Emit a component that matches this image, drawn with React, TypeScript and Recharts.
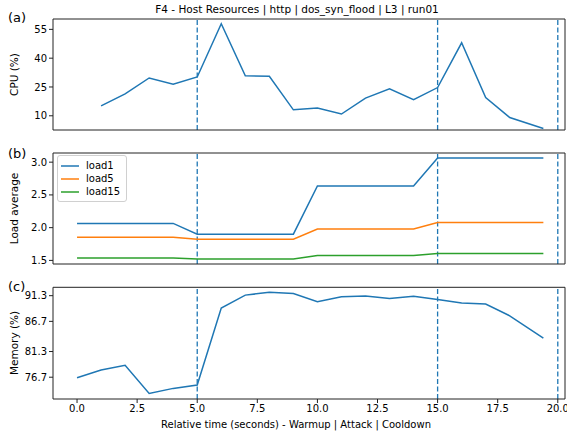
import React from 'react';
import { LineChart, Line, XAxis, YAxis, ReferenceLine, Legend } from 'recharts';

// sample times (s), last sample is a bit before 20
const time = [0, 1, 2, 3, 4, 5, 6, 7, 8, 9, 10, 11, 12, 13, 14, 15, 16, 17, 18, 19.4];
const cpu = [null, 15.2, 21.4, 29.7, 26.4, 30.2, 57.9, 30.8, 30.6, 13.1, 14.1, 10.9, 19.2, 24.0, 18.4, 24.7, 48.0, 19.5, 9.1, 3.4];
const load1 = [2.065, 2.065, 2.065, 2.065, 2.065, 1.9, 1.9, 1.9, 1.9, 1.9, 2.636, 2.636, 2.636, 2.636, 2.636, 3.065, 3.065, 3.065, 3.065, 3.065];
const load5 = [1.853, 1.853, 1.853, 1.853, 1.853, 1.823, 1.823, 1.823, 1.823, 1.823, 1.979, 1.979, 1.979, 1.979, 1.979, 2.08, 2.08, 2.08, 2.08, 2.08];
const load15 = [1.535, 1.535, 1.535, 1.535, 1.535, 1.52, 1.52, 1.52, 1.52, 1.52, 1.576, 1.576, 1.576, 1.576, 1.576, 1.606, 1.606, 1.606, 1.606, 1.606];
const memory = [76.6, 78.0, 78.85, 73.8, 74.7, 75.3, 89.1, 91.4, 91.9, 91.7, 90.2, 91.1, 91.25, 90.8, 91.2, 90.6, 90.0, 89.8, 87.7, 83.7];

// phase boundaries: warmup | attack | cooldown
const phaseMarks = [5, 15, 20];
const xTicks = [0, 2.5, 5, 7.5, 10, 12.5, 15, 17.5, 20];
const cpuTicks = [10, 25, 40, 55];
const loadTicks = [1.5, 2.0, 2.5, 3.0];
const memoryTicks = [76.7, 81.3, 86.7, 91.3];

const loadSeries = [
  { key: 'load1', color: '#1f77b4' },
  { key: 'load5', color: '#ff7f0e' },
  { key: 'load15', color: '#2ca02c' },
];

const rows = time.map((t, i) => ({
  t,
  cpu: cpu[i],
  load1: load1[i],
  load5: load5[i],
  load15: load15[i],
  memory: memory[i],
}));

const FONT = '"DejaVu Sans", sans-serif';
const SPINE = '#222';
const X_DOMAIN = [-1, 20.3];
const tickStyle = { fill: '#000', fontSize: 10, fontFamily: FONT };

// one stacked axes; top/right axes only draw the frame
const Panel = ({ top, height, marginTop, axisHeight, showTickLabels, yDomain, yTicks, yFormat, children }: any) => (
  <div style={{ position: 'absolute', left: 0, top }}>
    <LineChart width={567} height={height} data={rows} margin={{ top: marginTop - 1, right: 1, bottom: 0, left: 0 }}>
      <XAxis
        dataKey="t"
        type="number"
        domain={X_DOMAIN}
        ticks={xTicks}
        interval={0}
        allowDataOverflow
        height={axisHeight}
        tick={showTickLabels ? tickStyle : false}
        tickFormatter={(v: number) => v.toFixed(1)}
        tickSize={4}
        tickMargin={2}
        stroke={SPINE}
      />
      <XAxis xAxisId="top" orientation="top" dataKey="t" type="number" domain={X_DOMAIN} allowDataOverflow height={1} tick={false} tickLine={false} stroke={SPINE} />
      <YAxis
        type="number"
        domain={yDomain}
        ticks={yTicks}
        interval={0}
        allowDataOverflow
        width={53}
        tick={tickStyle}
        tickFormatter={yFormat}
        tickSize={4}
        tickMargin={2}
        stroke={SPINE}
      />
      <YAxis yAxisId="right" orientation="right" type="number" domain={yDomain} allowDataOverflow width={1} tick={false} tickLine={false} stroke={SPINE} />
      {phaseMarks.map((x) => (
        <ReferenceLine key={x} x={x} stroke="#1f77b4" strokeDasharray="5 2.5" strokeWidth={1.3} />
      ))}
      {children}
    </LineChart>
  </div>
);

const LoadLegend = () => (
  <div
    style={{
      border: '1px solid #d0d0d0',
      borderRadius: 3,
      background: '#fff',
      padding: '3px 6px 3px 3px',
      fontFamily: FONT,
      fontSize: 10,
      lineHeight: '13px',
    }}
  >
    {loadSeries.map((s) => (
      <div key={s.key} style={{ display: 'flex', alignItems: 'center' }}>
        <svg width={18} height={4} style={{ marginRight: 7 }}>
          <line x1={0} x2={18} y1={2} y2={2} stroke={s.color} strokeWidth={1.5} />
        </svg>
        <span>{s.key}</span>
      </div>
    ))}
  </div>
);

export default function App() {
  return (
    <div style={{ position: 'absolute', left: 0, top: 0, width: 567, height: 434, background: '#fff' }}>
      <Panel top={0} height={145} marginTop={19} axisHeight={15} showTickLabels={false} yDomain={[2.6, 60.4]} yTicks={cpuTicks} yFormat={(v: number) => String(v)}>
        <Line type="linear" dataKey="cpu" stroke="#1f77b4" strokeWidth={1.5} dot={false} isAnimationActive={false} />
      </Panel>
      <Panel top={140} height={135} marginTop={13} axisHeight={11} showTickLabels={false} yDomain={[1.445, 3.14]} yTicks={loadTicks} yFormat={(v: number) => v.toFixed(1)}>
        {loadSeries.map((s) => (
          <Line key={s.key} type="linear" dataKey={s.key} name={s.key} stroke={s.color} strokeWidth={1.5} dot={false} isAnimationActive={false} />
        ))}
        <Legend layout="vertical" align="center" verticalAlign="middle" wrapperStyle={{ left: 57, top: 15, width: 'auto' }} content={LoadLegend} />
      </Panel>
      <Panel top={270} height={164} marginTop={17.3} axisHeight={35} showTickLabels yDomain={[72.8, 92.8]} yTicks={memoryTicks} yFormat={(v: number) => v.toFixed(1)}>
        <Line type="linear" dataKey="memory" stroke="#1f77b4" strokeWidth={1.5} dot={false} isAnimationActive={false} />
      </Panel>
      <svg width={567} height={434} style={{ position: 'absolute', left: 0, top: 0, pointerEvents: 'none' }} fontFamily={FONT}>
        <text x={297} y={13} textAnchor="middle" fontSize={10.5}>
          F4 - Host Resources | http | dos_syn_flood | L3 | run01
        </text>
        <text x={8} y={22} fontSize={13}>(a)</text>
        <text x={8} y={158} fontSize={13}>(b)</text>
        <text x={8} y={291} fontSize={13}>(c)</text>
        <text transform="translate(14,74.5) rotate(-90)" textAnchor="middle" dominantBaseline="central" fontSize={10.5}>CPU (%)</text>
        <text transform="translate(14,208.5) rotate(-90)" textAnchor="middle" dominantBaseline="central" fontSize={10.5}>Load average</text>
        <text transform="translate(14,343) rotate(-90)" textAnchor="middle" dominantBaseline="central" fontSize={10.5}>Memory (%)</text>
        <text x={296} y={428} textAnchor="middle" fontSize={10}>
          Relative time (seconds) - Warmup | Attack | Cooldown
        </text>
      </svg>
    </div>
  );
}
